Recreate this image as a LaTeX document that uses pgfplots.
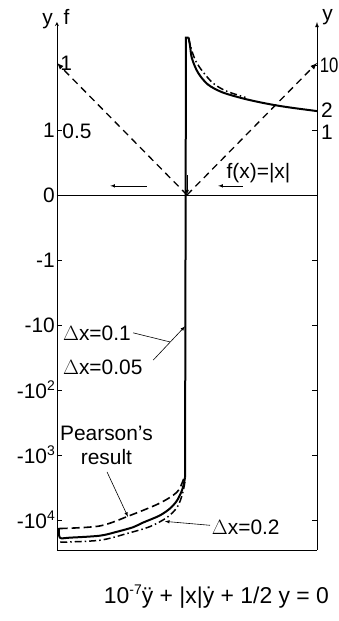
\documentclass[border=0pt]{standalone}
\usepackage{pgfplots}
\pgfplotsset{compat=1.18}
\usepackage{fontspec}
\setmainfont{Liberation Sans}
\newcommand{\sps}[1]{\raisebox{0.75ex}{\fontsize{14}{14}\selectfont #1}}
\begin{document}
\begin{tikzpicture}[font=\fontsize{21}{25}\selectfont]
\useasboundingbox (-57bp,-71bp) rectangle (282bp,550bp);
\begin{axis}[
 scale only axis, width=260bp, height=528bp,
 at={(0,0)}, anchor=south west,
 xmin=-1, xmax=1, ymin=-5.46, ymax=2.66,
 axis y line=left, axis x line*=bottom,
 xtick=\empty,
 ytick={-5,-4,-3,-2,-1,0,1},
 yticklabels={-10\sps{4},-10\sps{3},-10\sps{2},-10,-1,0,1},
 tick align=inside, major tick length=5bp,
 yticklabel style={inner xsep=2bp},
 tick style={line width=0.8pt, black},
 axis line style={line width=0.8pt},
 clip=false,
]
% zero line
\draw[line width=0.6pt] (axis cs:-1,0) -- (axis cs:1,0);
% right axis
\draw[line width=0.8pt,-latex] (axis cs:1,-5.46) -- (axis cs:1,2.66);
\pgfplotsinvokeforeach{2,1,-1,-2,-3,-4,-5}{\draw[line width=0.8pt] (axis cs:1,#1) -- (axis cs:0.962,#1);}
% f(x)=|x| (scaled: f=1 -> 2.03)
\addplot[line width=1.3pt, dash pattern=on 7bp off 5bp, -latex] coordinates {(0,0) (-1,2.03)};
\addplot[line width=1.3pt, dash pattern=on 7bp off 5bp, -latex] coordinates {(0,0) (1,2.03)};
\draw[line width=0.8pt,-latex] (axis cs:0,0.3) -- (axis cs:0,0);
% solid (dx=0.1, 0.05)
\addplot[line width=2bp, smooth] coordinates {
(-0.985,-5.12) (-0.978,-5.27) (-0.9,-5.27) (-0.67,-5.24) (-0.54,-5.18) (-0.415,-5.11) (-0.34,-5.04) (-0.21,-4.93) (-0.13,-4.82) (-0.077,-4.70) (-0.04,-4.55) (-0.025,-4.45) (-0.015,-4.34)};
\addplot[line width=2bp] coordinates {(-0.015,-4.34) (-0.008,2.42) (0.012,2.42)};
\addplot[line width=2bp, smooth] coordinates {
(0.012,2.42) (0.023,2.30) (0.038,2.10) (0.085,1.88) (0.16,1.70) (0.27,1.58) (0.42,1.49) (0.55,1.43) (0.68,1.38) (0.81,1.34) (1.0,1.29)};
% dash-dot (dx=0.2)
\addplot[line width=1.5bp, smooth, dash pattern=on 7bp off 3bp on 1.5bp off 3bp] coordinates {
(-0.975,-5.34) (-0.67,-5.31) (-0.45,-5.20) (-0.285,-5.10) (-0.154,-4.96) (-0.075,-4.80) (-0.035,-4.60) (-0.015,-4.40)};
\addplot[line width=1.5bp, smooth, dash pattern=on 7bp off 3bp on 1.5bp off 3bp] coordinates {
(0.01,2.42) (0.04,2.20) (0.07,2.05) (0.12,1.90) (0.2,1.72) (0.3,1.60) (0.45,1.50)};
% Pearson's result (dashed)
\addplot[line width=1.6bp, smooth, dash pattern=on 8bp off 4bp] coordinates {
(-0.98,-5.13) (-0.67,-5.09) (-0.44,-4.93) (-0.21,-4.74) (-0.077,-4.57) (-0.03,-4.39) (-0.015,-4.30)};
% annotations
\node[anchor=west, inner sep=0pt] at (axis cs:-0.955,-2.12) {$\Delta$x=0.1};
\node[anchor=west, inner sep=0pt] at (axis cs:-0.955,-2.65) {$\Delta$x=0.05};
\draw[line width=0.6pt] (axis cs:-0.415,-2.12) -- (axis cs:-0.131,-2.26);
\draw[line width=0.6pt,-latex] (axis cs:-0.26,-2.54) -- (axis cs:-0.015,-2.02);
\node[align=center, inner sep=0pt, font=\fontsize{21}{24}\selectfont] at (axis cs:-0.62,-3.85) {Pearson's\\result};
\draw[line width=0.6pt,-latex] (axis cs:-0.615,-4.26) -- (axis cs:-0.454,-4.95);
\node[anchor=west, inner sep=0pt] at (axis cs:0.19,-5.11) {$\Delta$x=0.2};
\draw[line width=0.6pt,-latex] (axis cs:0.177,-5.08) -- (axis cs:-0.17,-5.02);
\node[inner sep=0pt] at (axis cs:0.55,0.34) {f(x)=|x|};
\draw[line width=0.6pt,-latex] (axis cs:-0.31,0.14) -- (axis cs:-0.59,0.14);
\draw[line width=0.6pt,-latex] (axis cs:0.43,0.14) -- (axis cs:0.24,0.14);
% axis labels
\node[anchor=east, inner sep=0pt] at (axis cs:-1.03,2.68) {y};
\node[anchor=west, inner sep=0pt] at (axis cs:-0.95,2.74) {f};
\node[anchor=west, inner sep=0pt] at (axis cs:1.04,2.74) {y};
\node[anchor=west, inner sep=0pt] at (axis cs:-0.975,2.03) {1};
\node[anchor=west, inner sep=0pt] at (axis cs:-0.96,0.98) {0.5};
\node[anchor=west, inner sep=0pt] at (axis cs:1.02,2.0) {\scalebox{0.8}[1]{10}};
\node[anchor=west, inner sep=0pt] at (axis cs:1.03,1.30) {2};
\node[anchor=west, inner sep=0pt] at (axis cs:1.03,0.97) {1};
\node[anchor=west, inner sep=0pt, font=\fontsize{23}{27}\selectfont] at (axis cs:-0.64,-6.18) {10\sps{-7}\"y + |x|\.y + 1/2 y = 0};
\end{axis}
\end{tikzpicture}
\end{document}
